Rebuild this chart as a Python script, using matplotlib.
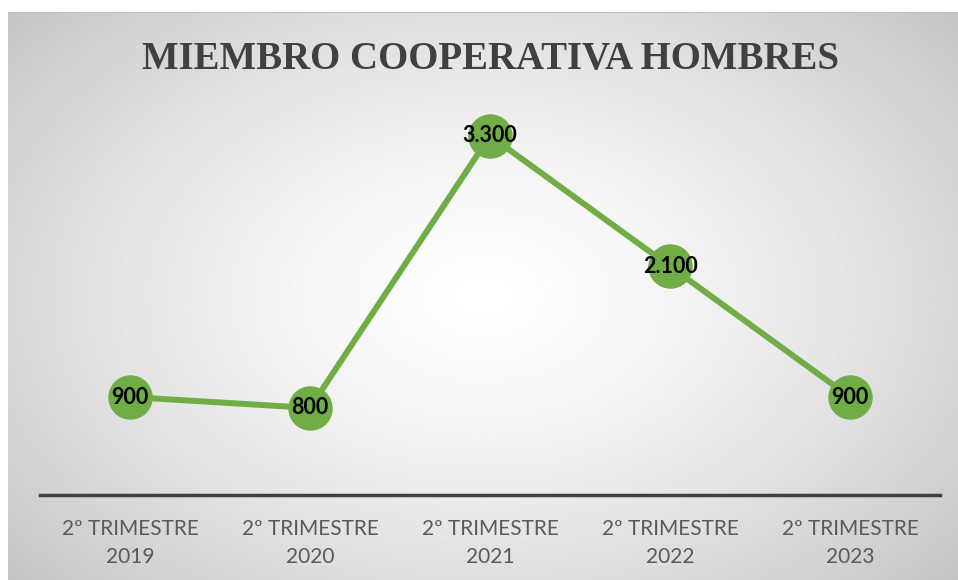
import numpy as np
import matplotlib.pyplot as plt

categories = ["2º TRIMESTRE\n2019", "2º TRIMESTRE\n2020", "2º TRIMESTRE\n2021",
              "2º TRIMESTRE\n2022", "2º TRIMESTRE\n2023"]
values = [900, 800, 3300, 2100, 900]
value_labels = ["900", "800", "3.300", "2.100", "900"]
title = "MIEMBRO COOPERATIVA HOMBRES"

W, H = 958, 580
fig = plt.figure(figsize=(W / 100, H / 100), dpi=100)
fig.patch.set_facecolor("white")

# radial gradient panel
bg = fig.add_axes([8 / W, 0, 1 - 8 / W, (H - 12) / H])
bg.set_axis_off()
yy, xx = np.mgrid[0:1:300j, 0:1:500j]
r = np.sqrt(((xx - 0.5) / 0.75) ** 2 + ((yy - 0.5) / 0.85) ** 2)
shade = 1.0 - 0.27 * np.clip(r, 0, 1) ** 1.4
bg.imshow(shade, cmap="gray", vmin=0, vmax=1, aspect="auto",
          extent=[0, 1, 0, 1], origin="lower")
bg.plot([0, 1], [1, 1], color="#bfbfbf", lw=1.5, transform=bg.transAxes)
bg.set_xlim(0, 1)
bg.set_ylim(0, 1)

ax = fig.add_axes([40 / W, (H - 495) / H, 900 / W, 381 / H])
ax.patch.set_alpha(0)
x = np.arange(len(values))
ax.plot(x, values, color="#70AD47", lw=4.3, marker="o", markersize=31,
        markerfacecolor="#70AD47", markeredgecolor="#70AD47", zorder=3)
for xi, v, lab in zip(x, values, value_labels):
    ax.text(xi, v, lab, ha="center", va="center", fontsize=15.5,
            fontweight="bold", family="Lato", color="black", zorder=4)

ax.set_xlim(-0.5, 4.5)
ax.set_ylim(0, 3500)
ax.set_xticks(x)
ax.set_xticklabels(categories, fontsize=15, color="#595959", family="Lato",
                   linespacing=1.55)
ax.tick_params(axis="x", length=0, pad=17)
ax.set_yticks([])
for s in ["top", "right", "left"]:
    ax.spines[s].set_visible(False)
ax.spines["bottom"].set_color("#404040")
ax.spines["bottom"].set_linewidth(2.5)

fig.text(490 / W, (H - 59) / H, title, ha="center", va="center",
         fontsize=28, fontweight="bold", family="Liberation Serif",
         color="#404040")

fig.savefig("out.png", dpi=100)
